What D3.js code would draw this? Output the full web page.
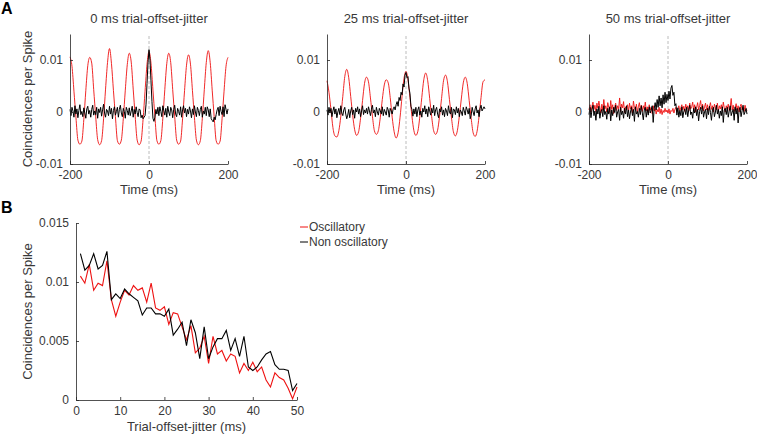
<!DOCTYPE html>
<html><head><meta charset="utf-8">
<script src="https://cdn.jsdelivr.net/npm/d3@7/dist/d3.min.js"></script>
<style>
body{margin:0;background:#fff}
svg{display:block}
text{font-family:"Liberation Sans",Arial,Helvetica,sans-serif;fill:#383838}
</style>
</head><body>
<svg id="chart" width="757" height="436"></svg>
<script>
// ---------- DATA ----------
// Panel A: lag grids (ms)
const lagCoarse = d3.range(-200, 200.001, 5);    // 81 samples
const lagFine = d3.range(-200, 200.001, 2.5);    // 161 samples
const panelTitles = ["0 ms trial-offset-jitter", "25 ms trial-offset-jitter", "50 ms trial-offset-jitter"];
const aTicksX = [-200, 0, 200];
const aTicksY = [-0.01, 0, 0.01];

// 0 ms jitter — oscillatory (red), 5 ms grid
const osc0 = [
.0106,.0088,.004,-.001,-.0054,-.0062,-.0056,-.0014,.0041,.0089,
.0105,.0094,.0043,-.0008,-.0053,-.0063,-.0055,-.0013,.0044,.0095,
.0122,.0093,.0041,-.0009,-.0055,-.0062,-.0054,-.0012,.0042,.0091,
.0113,.0096,.0044,-.0008,-.0054,-.0063,-.0056,-.0014,.004,.0092,
.0116,.0094,.0042,-.0009,-.0055,-.0062,-.0055,-.0012,.0043,.0093,
.0113,.0095,.0043,-.0008,-.0054,-.0062,-.0056,-.0013,.0041,.009,
.011,.0092,.0041,-.001,-.0054,-.0063,-.0055,-.0012,.0043,.0095,
.0118,.0095,.0042,-.0009,-.0055,-.0062,-.0056,-.0013,.004,.0088,
.0105];
// 0 ms jitter — non oscillatory (black), 2.5 ms grid
const non0 = [
.0005,-.0007,.0009,.0002,-.001,.0012,-.0004,.0006,-.0011,.0003,.0014,-.0005,.0001,-.0009,.0008,-.0002,-.0012,.0006,.0011,-.0004,
.0003,-.001,.0005,.0013,-.0006,.0002,-.0005,.0009,-.0012,.0006,-.0001,.0009,-.0008,.0004,.0015,-.0002,-.001,.0005,.0002,-.0007,
.0011,-.0004,.0007,-.0013,.0003,.001,-.0006,.0001,.0009,-.001,.0005,.0013,-.0002,-.0009,.0007,.0001,-.0012,.0009,.0003,-.0006,
.0008,-.0007,.0002,.0011,-.001,.0005,-.0004,.001,-.0001,-.0009,.0006,.0004,-.0011,-.0006,-.0013,-.001,-.0007,.0015,.0055,.0095,
.012,.01,.006,.002,-.0012,-.0018,-.001,.0005,-.0004,.0009,-.0007,.001,.0001,-.0009,.0012,.0003,-.0006,.0007,-.001,.0011,
0,-.0007,.0009,.0004,-.0011,.0005,.0013,-.0004,-.0009,.0007,.0001,-.0006,.001,-.001,.0004,.0012,-.0002,.0007,-.0009,.0005,
-.0004,.001,.0002,-.0011,.0006,-.0005,.0012,0,-.0009,.0009,.0003,-.0007,.0005,.0011,-.001,.0002,-.0004,.0009,-.0007,.001,
.0004,-.0009,.0006,-.0013,-.0016,-.0019,-.001,-.0015,-.0005,.0004,.0009,-.0007,.0011,.0001,-.0005,.001,-.0009,.0014,.0005,-.0004,
.0006];

// 25 ms jitter — oscillatory (red), 5 ms grid
const osc25 = [
.006,.0038,.0005,-.003,-.0046,-.0048,-.0036,-.0008,.003,.0068,
.0082,.0066,.003,-.0006,-.0034,-.0045,-.0038,-.0012,.0022,.0055,
.0067,.0058,.0027,-.0008,-.0036,-.0043,-.0036,-.001,.0024,.0052,
.0062,.0056,.0028,-.001,-.0038,-.005,-.004,-.001,.003,.0065,
.0078,.0062,.0028,-.0008,-.0036,-.0045,-.0037,-.0009,.0028,.0062,
.0075,.006,.0026,-.0009,-.0036,-.0043,-.0035,-.0008,.0026,.006,
.0071,.0058,.0024,-.001,-.0038,-.0046,-.0036,-.0008,.0025,.0056,
.0067,.0055,.0022,-.0012,-.004,-.0047,-.0037,-.0008,.0028,.0058,
.0062];
// 25 ms jitter — non oscillatory (black), 2.5 ms grid
const non25 = [
.0004,-.0006,.0009,-.0002,.0007,-.0009,.0002,.001,-.0004,.0006,-.0011,0,.0007,-.0005,.0012,-.0002,-.0007,.0004,.0009,-.0004,
-.0013,-.0006,.0005,-.0011,.0002,.0009,-.0005,.0004,-.0012,.0007,0,.001,-.0004,.0006,-.0009,.0002,.0012,-.0005,.0004,-.0002,
.0007,-.0004,.001,.0002,-.0007,.0005,.0013,-.0002,.0004,-.0009,.0009,0,-.0006,.0007,.0002,-.0004,.001,-.0007,.0005,0,
-.0006,.0009,.0004,-.001,.0007,.0002,-.0004,.0006,.001,.0004,.0014,.002,.0011,.0028,.0022,.0038,.0033,.0054,.0048,.0071,
.0076,.0066,.0068,.0046,.0036,.0011,.0005,-.0008,.0006,-.0004,.0009,-.0009,.0004,.001,-.0006,.0002,-.001,.0007,0,.0012,
-.0004,.0006,-.0009,.001,.0002,-.0006,.0007,-.0002,.0013,-.0007,.0004,.0009,-.0004,-.0011,.0006,0,.001,-.0006,.0004,-.0009,
.0007,.0002,-.0007,.0012,0,-.0004,.0009,-.0011,.0006,.0004,-.0005,.001,-.0002,.0007,-.0009,.0004,0,-.0007,.0009,.0002,
-.0006,.001,.0004,-.0004,.0007,-.0013,-.0006,.0009,0,-.0007,.0006,.0012,-.0002,.0004,-.0009,.0007,.0013,.0002,.0006,.001,
.0006];

// 50 ms jitter — oscillatory (red), 2.5 ms grid
const osc50 = [
.0004,.0014,0,.0011,.0019,.0005,.0013,.0001,.0017,.0007,.0021,.0009,-.0002,.0015,.0003,.0024,.0006,.0012,0,.0018,
.0009,-.0001,.0022,.0005,.0014,-.0003,.001,.0017,.0003,.0012,.0006,.0027,.0001,.0015,.0008,.002,-.0001,.001,.0004,.0014,
.0001,.0017,.0006,.0012,-.0002,.0021,.0008,.0003,.0015,0,.001,.0018,.0004,.0013,.0001,.0012,.0005,.0019,.0002,.001,
-.0001,.0014,.0004,.0009,-.0003,.0012,.0002,.0007,-.0004,.0005,0,.0009,-.0003,.0006,-.0005,.0003,-.0001,.0007,0,.0004,
-.0002,.0006,-.0004,.0003,.0001,.0007,-.0002,.0005,.0009,.0001,.0006,.0012,.0002,.0008,.0014,.0004,.0011,.0001,.0015,.0005,
.0012,.0002,.0017,.0006,.001,.0019,.0003,.0014,0,.0009,.0018,.0004,.0012,.0022,.0006,.0015,.0002,.001,.0017,.0004,
.0014,.0003,.001,.0018,.0005,.0012,0,.0015,.0008,.0004,.0017,.0001,.0012,.0006,.0014,.0003,.0019,.0008,0,.0012,
.0006,.0015,.0003,.001,.0026,.0004,.0013,.0001,.0008,.0016,.0003,.0012,0,.001,.0015,.0004,.0009,.0001,.0013,.0006,
.0003];
// 50 ms jitter — non oscillatory (black), 2.5 ms grid
const non50 = [
-.0005,.0009,-.0011,.0004,.0013,-.0007,.0002,-.0016,.0006,-.0004,.0011,-.0012,0,.0005,-.0009,.0012,-.0005,.0001,-.0014,.0007,
-.0004,.001,-.0017,.0004,-.0007,.0009,-.0001,.0013,-.001,0,.0005,-.0016,.0009,-.0005,.0002,-.0012,.0007,-.0004,.0012,-.0009,
.0004,-.0013,0,.0009,-.0007,.0005,-.0018,.001,-.0004,.0001,-.001,.0007,-.0005,.0012,-.0002,-.0015,.0004,.0009,-.001,.0005,
-.0006,.001,-.0002,.0004,.0012,-.002,.0006,.0018,.0004,.0024,.0009,.0031,.0012,.0027,.0008,.0033,.0015,.0038,.0018,.0034,
.0022,.004,.0025,.0046,.0051,.0032,.0038,.0012,.0016,-.0006,.0008,-.001,.0003,-.0007,.001,-.0011,.0001,.0006,-.0005,.0009,
-.0009,.0004,.0013,-.0005,0,-.0012,.0007,-.0002,.001,-.0007,.0005,-.0017,.0001,.0009,-.0004,.0012,-.001,0,.0005,-.0013,
.0007,-.0005,.0011,-.0001,-.0016,.0004,.0009,-.0009,0,.0013,-.0004,.0005,-.0012,.0002,-.0007,.001,-.002,.0004,.0007,-.0005,
.0009,-.001,.0002,.0012,-.0007,0,.0005,-.0016,.001,-.0004,.0007,-.0021,.0004,.0009,-.0009,.0002,.0013,-.0005,0,.0007,
-.0004];

// Panel B
const jitterMs = d3.range(1, 51);
const bOscillatory = [.0105,.0099,.0115,.0093,.0099,.0097,.0118,.0085,.0071,.0083,
.0093,.0089,.0097,.0093,.0095,.0083,.0099,.0078,.0076,.0079,
.0064,.0074,.0073,.0062,.0051,.0063,.004,.0044,.0054,.0031,
.0054,.0039,.0042,.0033,.0039,.0037,.0023,.0031,.0025,.0032,
.0024,.0028,.0017,.0011,.0023,.0019,.0017,.001,.0001,.0011];
const bNonOscillatory = [.0124,.011,.0114,.0124,.0111,.0114,.0126,.0085,.009,.0086,
.0094,.009,.0087,.0084,.0072,.0078,.0078,.0073,.0073,.0071,
.0077,.0055,.006,.0066,.0046,.0068,.0057,.0035,.0062,.0035,
.0045,.0052,.0052,.0059,.0042,.0052,.0037,.0054,.0028,.0025,
.0028,.0034,.0039,.0041,.003,.0026,.0026,.0025,.0008,.0014];
const bTicksX = [0, 10, 20, 30, 40, 50];
const bTicksY = [0, 0.005, 0.01, 0.015];
const legendLabels = ["Oscillatory", "Non oscillatory"];

// ---------- DRAWING ----------
const RED = "#ee1111", BLACK = "#000000", AX = "#262626";
const svg = d3.select("#chart");
const fmt = d => d === 0 ? "0" : String(d);

function styleAxis(g) {
  g.selectAll("path.domain").attr("stroke", AX).attr("stroke-width", 0.8);
  g.selectAll(".tick line").attr("stroke", AX).attr("stroke-width", 0.8);
  g.selectAll(".tick text").attr("fill", "#383838").style("font-size", "12px")
    .style("font-family", '"Liberation Sans",Arial,sans-serif');
}

const aPanels = [
  {x0: 70, x1: 228, title: panelTitles[0], osc: osc0, oscLag: lagCoarse, non: non0, nonLag: lagFine, ylabel: true},
  {x0: 327, x1: 485, title: panelTitles[1], osc: osc25, oscLag: lagCoarse, non: non25, nonLag: lagFine, ylabel: false},
  {x0: 589, x1: 747, title: panelTitles[2], osc: osc50, oscLag: lagFine, non: non50, nonLag: lagFine, ylabel: false}
];
const aTop = 34, aBottom = 164;

aPanels.forEach(p => {
  const x = d3.scaleLinear().domain([-200, 200]).range([p.x0, p.x1]);
  const y = d3.scaleLinear().domain([-0.01, 0.015]).range([aBottom, aTop]);
  const g = svg.append("g");
  g.append("line").attr("x1", x(0)).attr("x2", x(0)).attr("y1", y(-0.01)).attr("y2", y(0.015))
    .attr("stroke", "#b4b4b4").attr("stroke-width", 0.9).attr("stroke-dasharray", "3,2");
  const smooth = p.oscLag === lagCoarse ? d3.curveMonotoneX : d3.curveLinear;
  g.append("path").datum(p.osc)
    .attr("d", d3.line().x((d, i) => x(p.oscLag[i])).y(d => y(d)).curve(smooth))
    .attr("fill", "none").attr("stroke", RED).attr("stroke-width", 0.9);
  g.append("path").datum(p.non)
    .attr("d", d3.line().x((d, i) => x(p.nonLag[i])).y(d => y(d)))
    .attr("fill", "none").attr("stroke", BLACK).attr("stroke-width", 1);
  const gx = g.append("g").attr("transform", `translate(0,${aBottom})`)
    .call(d3.axisBottom(x).tickValues(aTicksX).tickFormat(fmt).tickSizeInner(-3).tickSizeOuter(0).tickPadding(6));
  styleAxis(gx);
  const gy = g.append("g").attr("transform", `translate(${p.x0},0)`)
    .call(d3.axisLeft(y).tickValues(aTicksY).tickFormat(fmt).tickSizeInner(-3).tickSizeOuter(0).tickPadding(7));
  styleAxis(gy);
  g.append("text").attr("x", (p.x0 + p.x1) / 2).attr("y", 23).attr("text-anchor", "middle")
    .style("font-size", "13px").text(p.title);
  g.append("text").attr("x", (p.x0 + p.x1) / 2).attr("y", 194).attr("text-anchor", "middle")
    .style("font-size", "13px").text("Time (ms)");
  if (p.ylabel) {
    g.append("text").attr("transform", `translate(32,${(aTop + aBottom) / 2}) rotate(-90)`)
      .attr("text-anchor", "middle").style("font-size", "13px").text("Coincidences per Spike");
  }
});

// Panel B
{
  const x0 = 76, x1 = 297, top = 223, bottom = 400;
  const x = d3.scaleLinear().domain([0, 50]).range([x0, x1]);
  const y = d3.scaleLinear().domain([0, 0.015]).range([bottom, top]);
  const g = svg.append("g");
  const line = d3.line().x((d, i) => x(jitterMs[i])).y(d => y(d));
  g.append("path").datum(bOscillatory).attr("d", line).attr("fill", "none")
    .attr("stroke", RED).attr("stroke-width", 1.1);
  g.append("path").datum(bNonOscillatory).attr("d", line).attr("fill", "none")
    .attr("stroke", BLACK).attr("stroke-width", 1.1);
  const gx = g.append("g").attr("transform", `translate(0,${bottom})`)
    .call(d3.axisBottom(x).tickValues(bTicksX).tickFormat(fmt).tickSizeInner(-3).tickSizeOuter(0).tickPadding(6));
  styleAxis(gx);
  const gy = g.append("g").attr("transform", `translate(${x0},0)`)
    .call(d3.axisLeft(y).tickValues(bTicksY).tickFormat(fmt).tickSizeInner(-3).tickSizeOuter(0).tickPadding(7));
  styleAxis(gy);
  g.append("text").attr("x", (x0 + x1) / 2).attr("y", 431).attr("text-anchor", "middle")
    .style("font-size", "13px").text("Trial-offset-jitter (ms)");
  g.append("text").attr("transform", `translate(32,${(top + bottom) / 2}) rotate(-90)`)
    .attr("text-anchor", "middle").style("font-size", "13px").text("Coincidences per Spike");
  const lg = g.append("g");
  [RED, BLACK].forEach((c, i) => {
    const yy = 227 + i * 15;
    lg.append("line").attr("x1", 300).attr("x2", 308).attr("y1", yy).attr("y2", yy)
      .attr("stroke", c).attr("stroke-width", 1);
    lg.append("text").attr("x", 309).attr("y", yy + 4).style("font-size", "12px").text(legendLabels[i]);
  });
}

svg.append("text").attr("x", 1).attr("y", 14).style("font-size", "16px").style("font-weight", "bold").style("fill", "#000").text("A");
svg.append("text").attr("x", 1).attr("y", 213).style("font-size", "16px").style("font-weight", "bold").style("fill", "#000").text("B");
</script>
</body></html>
